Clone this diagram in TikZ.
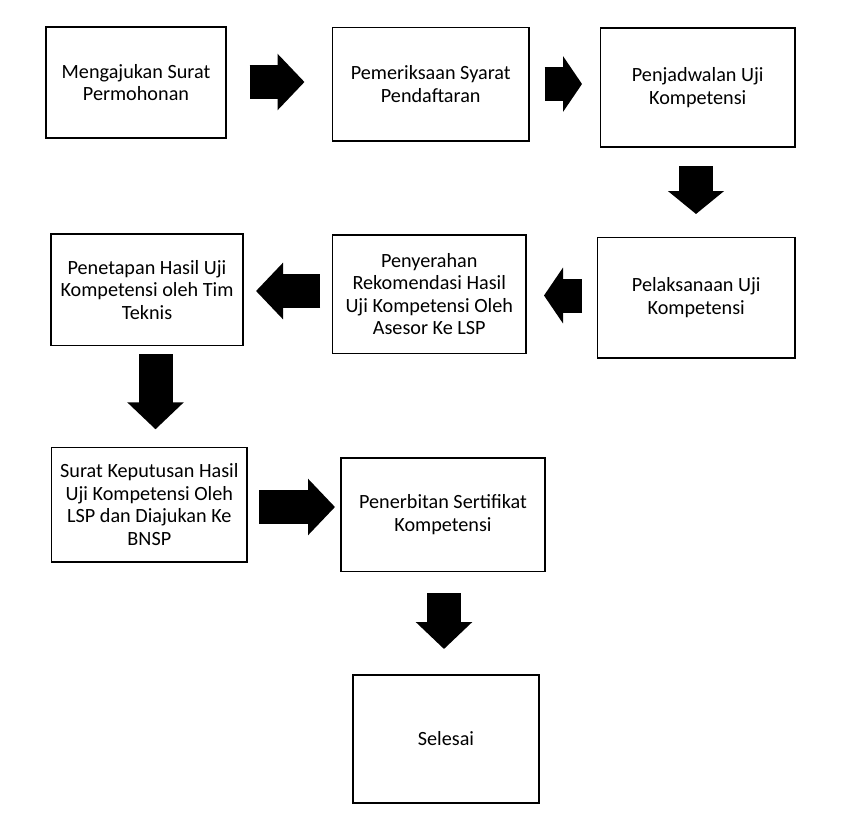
\documentclass[tikz,border=0pt]{standalone}
\usepackage{fontspec}
\setmainfont{Carlito}
\usepackage{tikz}
\usetikzlibrary{arrows.meta, positioning}

\begin{document}
\begin{tikzpicture}[x=1pt, y=-1pt,
    box/.style={draw, line width=1.2pt, align=center, inner sep=0pt,
        font=\fontsize{20.2}{22.5}\selectfont},
    blockarrow/.style={line width=34pt, -{Triangle[length=#1, width=55pt]}},
    blockarrow/.default=27pt]
    \useasboundingbox (0,0) rectangle (846,815);

    \node (s1) [box, minimum width=180pt, minimum height=111pt] at (136,82.5)
        {Mengajukan Surat\\Permohonan};
    \node (s2) [box, minimum width=196.5pt, minimum height=113.5pt] at (430.75,84.25)
        {Pemeriksaan Syarat\\Pendaftaran};
    \node (s3) [box, minimum width=194.5pt, minimum height=119pt] at (697.75,87.5)
        {Penjadwalan Uji\\Kompetensi};

    \node (s4) [box, minimum width=197.5pt, minimum height=120.5pt] at (696.25,297.75)
        {Pelaksanaan Uji\\Kompetensi};
    \node (s5) [box, minimum width=193.5pt, minimum height=118.5pt] at (429.25,294.25)
        {Penyerahan\\Rekomendasi Hasil\\Uji Kompetensi Oleh\\Asesor Ke LSP};
    \node (s6) [box, minimum width=192pt, minimum height=111.5pt] at (147,289.75)
        {Penetapan Hasil Uji\\Kompetensi oleh Tim\\Teknis};

    \node (s7) [box, minimum width=195.3pt, minimum height=114.5pt] at (149.35,504.75)
        {Surat Keputusan Hasil\\Uji Kompetensi Oleh\\LSP dan Diajukan Ke\\BNSP};
    \node (s8) [box, minimum width=204pt, minimum height=113.5pt] at (443,514.75)
        {Penerbitan Sertifikat\\Kompetensi};

    \node (s9) [box, minimum width=186pt, minimum height=128pt] at (446,739)
        {Selesai};

    % ends of the block arrows
    \coordinate (a1) at (249.5,82);   \coordinate (b1) at (304.5,82);
    \coordinate (a2) at (544.5,84);   \coordinate (b2) at (582,84);
    \coordinate (a3) at (696,166);    \coordinate (b3) at (696,214);
    \coordinate (a4) at (582,295.5);  \coordinate (b4) at (544,295.5);
    \coordinate (a5) at (320,291);    \coordinate (b5) at (256,291);
    \coordinate (a6) at (155.5,354);  \coordinate (b6) at (155.5,429.3);
    \coordinate (a7) at (259.3,507);  \coordinate (b7) at (335,507);
    \coordinate (a8) at (444,593.3);  \coordinate (b8) at (444,649);

\path [blockarrow]
    (a1) edge (b1)
    (a2) edge [blockarrow=19pt] (b2)
    (a3) edge [blockarrow=23pt] (b3)
    (a4) edge [blockarrow=19pt] (b4)
    (a5) edge (b5)
    (a6) edge (b6)
    (a7) edge (b7)
    (a8) edge (b8);

\end{tikzpicture}
\end{document}
